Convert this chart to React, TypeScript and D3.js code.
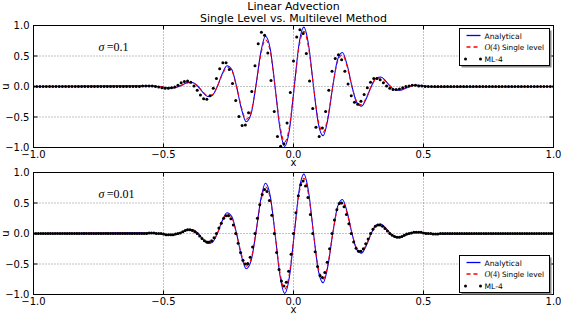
import React, { useEffect, useRef } from 'react';
import * as d3 from 'd3';

// axis ticks
const xTicks = [-1, -0.5, 0, 0.5, 1];
const yTicks = [-1, -0.5, 0, 0.5, 1];
const tickLabels = ['\u22121.0', '\u22120.5', '0.0', '0.5', '1.0'];

// sample positions for the two continuous curves
const lineX = [
  -1, -0.552, -0.5335, -0.515, -0.4965, -0.478, -0.4595, -0.441, -0.4225, -0.404, -0.3855,
  -0.367, -0.3485, -0.33, -0.3115, -0.293, -0.2745, -0.256, -0.2375, -0.219, -0.2005,
  -0.182, -0.1635, -0.145, -0.1265, -0.108, -0.0895, -0.071, -0.0525, -0.034, -0.0155,
  0.003, 0.0215, 0.04, 0.0585, 0.077, 0.0955, 0.114, 0.1325, 0.151, 0.1695,
  0.188, 0.2065, 0.225, 0.2435, 0.262, 0.2805, 0.299, 0.3175, 0.336, 0.3545,
  0.373, 0.3915, 0.41, 0.4285, 0.447, 0.4655, 0.484, 0.5025, 0.521, 0.5395, 0.558, 1,
];

const analytical = [
  0, 0.01, 0.006, 0, -0.012, -0.023, -0.022, 0, 0.037, 0.067, 0.061,
  0, -0.095, -0.165, -0.142, 0, 0.204, 0.339, 0.278, 0, -0.364,
  -0.578, -0.454, 0, 0.543, 0.825, 0.619, 0, -0.675, -0.981, -0.704,
  0, 0.701, 0.974, 0.668, 0, -0.608, -0.807, -0.529, 0, 0.44,
  0.558, 0.349, 0, -0.265, -0.322, -0.193, 0, 0.134, 0.155, 0.089,
  0, -0.056, -0.062, -0.034, 0, 0.02, 0.021, 0.011, 0, -0.006, -0.006, 0,
];

const singleLevel = [
  0, 0.009, 0.006, 0, -0.011, -0.021, -0.02, 0, 0.034, 0.062, 0.057,
  0, -0.088, -0.153, -0.132, 0, 0.19, 0.315, 0.259, 0, -0.339,
  -0.538, -0.422, 0, 0.505, 0.767, 0.576, 0, -0.628, -0.912, -0.655,
  0, 0.652, 0.906, 0.621, 0, -0.565, -0.751, -0.492, 0, 0.409,
  0.519, 0.325, 0, -0.246, -0.299, -0.179, 0, 0.125, 0.144, 0.083,
  0, -0.052, -0.058, -0.032, 0, 0.019, 0.02, 0.01, 0, -0.006, -0.006, 0,
];

// ML-4, sigma = 0.1 : 163 points evenly spaced on [-1, 1]
const ml4Coarse = [
  0, 0, 0, 0, 0, 0, 0, 0, 0, 0, 0, 0, 0, 0, 0, 0, 0, 0, 0, 0,
  0, 0, 0, 0, 0, 0, 0, 0, 0, 0, 0, 0, 0,
  0, 0.01, 0.01, 0.01, 0.01, 0, -0.01, -0.02, -0.03, -0.03,
  -0.02, -0.01, 0.02, 0.06, 0.08, 0.09, 0.07, 0.01, -0.06, -0.14,
  -0.2, -0.21, -0.15, -0.03, 0.13, 0.29, 0.39, 0.39, 0.28, 0.05,
  -0.23, -0.49, -0.64, -0.63, -0.43, -0.08, 0.34, 0.7, 0.89, 0.84,
  0.55, 0.1, -0.41, -0.82, -0.98, -0.94, -0.6, -0.1, 0.42, 0.81,
  0.93, 0.87, 0.54, 0.09, -0.36, -0.67, -0.82, -0.68, -0.41, -0.06,
  0.25, 0.46, 0.52, 0.44, 0.25, 0.04, -0.15, -0.26, -0.29, -0.24,
  -0.13, -0.02, 0.07, 0.13, 0.13, 0.11, 0.06, 0.01, -0.03, -0.05,
  -0.05, -0.04, -0.02, 0, 0.01, 0.02, 0.02, 0.01, 0.01, 0,
  0,
  0, 0, 0, 0, 0, 0, 0, 0, 0, 0, 0, 0, 0, 0, 0, 0, 0, 0, 0, 0,
  0, 0, 0, 0, 0, 0, 0, 0, 0, 0, 0, 0, 0, 0, 0, 0, 0, 0, 0,
];

// ML-4, sigma = 0.01 : 217 points evenly spaced on [-1, 1]
const ml4Fine = [
  0, 0, 0, 0, 0, 0, 0, 0, 0, 0, 0, 0, 0, 0, 0, 0, 0, 0, 0, 0, 0, 0, 0, 0,
  0, 0, 0, 0, 0, 0, 0, 0, 0, 0, 0, 0, 0, 0, 0, 0, 0, 0, 0, 0, 0, 0, 0, 0,
  0.01, 0.01, 0.01, 0, 0, 0, -0.01, -0.02,
  -0.02, -0.02, -0.02, -0.01, 0, 0.01, 0.03, 0.05,
  0.06, 0.06, 0.05, 0.03, 0, -0.04, -0.08, -0.12,
  -0.14, -0.14, -0.12, -0.07, 0, 0.09, 0.17, 0.25,
  0.29, 0.29, 0.24, 0.14, 0, -0.16, -0.31, -0.44,
  -0.5, -0.49, -0.39, -0.22, 0, 0.25, 0.47, 0.64,
  0.72, 0.69, 0.54, 0.3, 0, -0.31, -0.59, -0.78,
  -0.86, -0.8, -0.62, -0.34, 0, 0.34, 0.62, 0.8,
  0.86, 0.78, 0.59, 0.31, 0, -0.3, -0.54, -0.69,
  -0.72, -0.64, -0.47, -0.25, 0, 0.22, 0.39, 0.49,
  0.5, 0.44, 0.31, 0.16, 0, -0.14, -0.24, -0.29,
  -0.29, -0.25, -0.17, -0.09, 0, 0.07, 0.12, 0.14,
  0.14, 0.12, 0.08, 0.04, 0, -0.03, -0.05, -0.06,
  -0.06, -0.05, -0.03, -0.01, 0, 0.01, 0.02, 0.02,
  0.02, 0.02, 0.01, 0, 0, 0, -0.01, -0.01,
  -0.01,
  0, 0, 0, 0, 0, 0, 0, 0, 0, 0, 0, 0, 0, 0, 0, 0, 0, 0, 0, 0, 0, 0, 0, 0,
  0, 0, 0, 0, 0, 0, 0, 0, 0, 0, 0, 0, 0, 0, 0, 0, 0, 0, 0, 0, 0, 0, 0, 0,
];

const sigmaLabels = ['0.1', '0.01'];
const titleLines = ['Linear Advection', 'Single Level vs. Multilevel Method'];

const W = 561;
const H = 314;
const sans = '"DejaVu Sans", sans-serif';
const serif = '"Liberation Serif", "DejaVu Serif", serif';

function App() {
  const ref = useRef<SVGSVGElement>(null);

  useEffect(() => {
    const svg = d3.select(ref.current);
    svg.selectAll('*').remove();
    svg.append('rect').attr('width', W).attr('height', H).attr('fill', 'white');

    const x = d3.scaleLinear().domain([-1, 1]).range([33.5, 553.5]);

    // title
    titleLines.forEach((t, i) => {
      svg.append('text')
        .attr('x', 293.5).attr('y', i === 0 ? 9.5 : 22)
        .attr('text-anchor', 'middle')
        .attr('font-family', sans).attr('font-size', 11)
        .text(t);
    });

    const panels = [
      { top: 25.5, bottom: 147.5, ml: ml4Coarse, sigma: sigmaLabels[0], legendTop: 28 },
      { top: 172.5, bottom: 294.5, ml: ml4Fine, sigma: sigmaLabels[1], legendTop: 255 },
    ];

    panels.forEach((p, pi) => {
      const y = d3.scaleLinear().domain([-1, 1]).range([p.bottom, p.top]);
      const g = svg.append('g');

      const clipId = 'clip' + pi;
      g.append('clipPath').attr('id', clipId)
        .append('rect').attr('x', x(-1)).attr('y', p.top)
        .attr('width', x(1) - x(-1)).attr('height', p.bottom - p.top);

      // dotted grid
      g.selectAll('.gx').data(xTicks.slice(1, -1)).join('line')
        .attr('x1', d => x(d)).attr('x2', d => x(d))
        .attr('y1', p.top).attr('y2', p.bottom)
        .attr('stroke', '#555').attr('stroke-width', 0.7).attr('stroke-dasharray', '1,2');
      g.selectAll('.gy').data(yTicks.slice(1, -1)).join('line')
        .attr('x1', x(-1)).attr('x2', x(1))
        .attr('y1', d => y(d)).attr('y2', d => y(d))
        .attr('stroke', '#555').attr('stroke-width', 0.7).attr('stroke-dasharray', '1,2');

      const plot = g.append('g').attr('clip-path', `url(#${clipId})`);

      const line = d3.line<number>()
        .x((d, i) => x(lineX[i]))
        .y(d => y(d))
        .curve(d3.curveMonotoneX);

      plot.append('path').datum(analytical)
        .attr('fill', 'none').attr('stroke', '#0000ff').attr('stroke-width', 1.1)
        .attr('d', line);
      plot.append('path').datum(singleLevel)
        .attr('fill', 'none').attr('stroke', '#ff0000').attr('stroke-width', 1.1)
        .attr('stroke-dasharray', '4,3')
        .attr('d', line);

      const n = p.ml.length - 1;
      plot.selectAll('circle').data(p.ml).join('circle')
        .attr('cx', (d, i) => x(-1 + (2 * i) / n))
        .attr('cy', d => y(d))
        .attr('r', 1.5)
        .attr('fill', 'black');

      // frame
      g.append('rect')
        .attr('x', x(-1)).attr('y', p.top)
        .attr('width', x(1) - x(-1)).attr('height', p.bottom - p.top)
        .attr('fill', 'none').attr('stroke', 'black').attr('stroke-width', 1);

      // inward ticks on all sides
      xTicks.forEach(t => {
        g.append('line').attr('x1', x(t)).attr('x2', x(t))
          .attr('y1', p.bottom).attr('y2', p.bottom - 4).attr('stroke', 'black');
        g.append('line').attr('x1', x(t)).attr('x2', x(t))
          .attr('y1', p.top).attr('y2', p.top + 4).attr('stroke', 'black');
      });
      yTicks.forEach(t => {
        g.append('line').attr('x1', x(-1)).attr('x2', x(-1) + 4)
          .attr('y1', y(t)).attr('y2', y(t)).attr('stroke', 'black');
        g.append('line').attr('x1', x(1)).attr('x2', x(1) - 4)
          .attr('y1', y(t)).attr('y2', y(t)).attr('stroke', 'black');
      });

      // tick labels
      g.selectAll('.xl').data(xTicks).join('text')
        .attr('x', d => x(d)).attr('y', p.bottom + 10.5)
        .attr('text-anchor', 'middle')
        .attr('font-family', sans).attr('font-size', 10)
        .text((d, i) => tickLabels[i]);
      g.selectAll('.yl').data(yTicks).join('text')
        .attr('x', 29.5).attr('y', d => y(d) + 3.6)
        .attr('text-anchor', 'end')
        .attr('font-family', sans).attr('font-size', 10)
        .text((d, i) => tickLabels[i]);

      // axis labels
      g.append('text').attr('x', x(0)).attr('y', p.bottom + 18.5)
        .attr('text-anchor', 'middle').attr('font-family', sans).attr('font-size', 10)
        .text('x');
      g.append('text')
        .attr('transform', `translate(8.5,${(p.top + p.bottom) / 2}) rotate(-90)`)
        .attr('text-anchor', 'middle').attr('font-family', sans).attr('font-size', 10)
        .text('u');

      // sigma annotation
      const s = g.append('text').attr('x', x(-0.75)).attr('y', y(0.59))
        .attr('font-family', serif).attr('font-size', 12);
      s.append('tspan').attr('font-style', 'italic').text('\u03c3');
      s.append('tspan').text('\u2009=' + p.sigma);

      // legend
      const lx = 459.5;
      const lt = p.legendTop + 0.5;
      const lw = 90;
      const lh = 37;
      g.append('rect').attr('x', lx + 2).attr('y', lt + 2).attr('width', lw).attr('height', lh)
        .attr('fill', '#8a8a8a');
      g.append('rect').attr('x', lx).attr('y', lt).attr('width', lw).attr('height', lh)
        .attr('fill', 'white').attr('stroke', 'black').attr('stroke-width', 1);
      const rows = [lt + 7, lt + 18.5, lt + 30.5];
      g.append('line').attr('x1', lx + 7).attr('x2', lx + 21)
        .attr('y1', rows[0]).attr('y2', rows[0]).attr('stroke', '#0000ff').attr('stroke-width', 1.3);
      g.append('line').attr('x1', lx + 7).attr('x2', lx + 21)
        .attr('y1', rows[1]).attr('y2', rows[1]).attr('stroke', '#ff0000').attr('stroke-width', 1.3)
        .attr('stroke-dasharray', '4,3');
      [lx + 6, lx + 21].forEach(cx => {
        g.append('circle').attr('cx', cx).attr('cy', rows[2]).attr('r', 1.5).attr('fill', 'black');
      });
      g.append('text').attr('x', lx + 25).attr('y', rows[0] + 3)
        .attr('font-family', sans).attr('font-size', 7.6).text('Analytical');
      const t2 = g.append('text').attr('x', lx + 25).attr('y', rows[1] + 3)
        .attr('font-family', sans).attr('font-size', 7.3);
      t2.append('tspan').attr('font-family', serif).attr('font-style', 'italic').attr('font-size', 8).text('O');
      t2.append('tspan').attr('font-family', serif).attr('font-size', 8).text('(4)');
      t2.append('tspan').text(' Single level');
      g.append('text').attr('x', lx + 25).attr('y', rows[2] + 3)
        .attr('font-family', sans).attr('font-size', 7.6).text('ML-4');
    });
  }, []);

  return (
    <svg ref={ref} width={W} height={H}
      style={{ position: 'absolute', left: 0, top: 0, display: 'block' }} />
  );
}

export default App;
